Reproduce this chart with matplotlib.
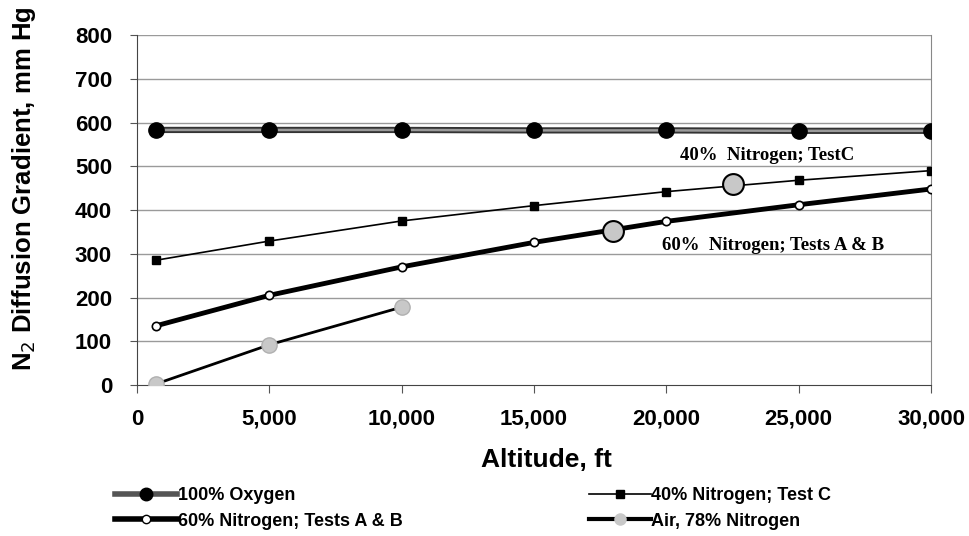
import matplotlib
matplotlib.use("Agg")
import matplotlib.pyplot as plt
from matplotlib.lines import Line2D

altitude = [700, 5000, 10000, 15000, 20000, 25000, 30000]
oxygen100 = [583, 583, 583, 582, 582, 581, 581]
nitrogen40 = [285, 329, 375, 410, 442, 468, 490]
nitrogen60 = [135, 205, 270, 326, 374, 412, 448]
air_alt = [700, 5000, 10000]
air78 = [2, 92, 178]
mark40 = (22500, 460)
mark60 = (18000, 352)

xticks = [0, 5000, 10000, 15000, 20000, 25000, 30000]
xticklabels = ["0", "5,000", "10,000", "15,000", "20,000", "25,000", "30,000"]
yticks = [0, 100, 200, 300, 400, 500, 600, 700, 800]

plt.rcParams['font.family'] = ['Liberation Sans', 'DejaVu Sans']

fig = plt.figure(figsize=(9.69, 5.36), dpi=100)
ax = fig.add_axes([0.1414, 0.2817, 0.8194, 0.653])

for y in yticks[1:]:
    ax.axhline(y, color='#9a9a9a', lw=1.0, zorder=0)

# 100% oxygen: double-edged grey band
ax.plot(altitude, oxygen100, color='#333333', lw=4.5, zorder=2, solid_capstyle='butt')
ax.plot(altitude, oxygen100, color='#9a9a9a', lw=1.8, zorder=2.1, solid_capstyle='butt')
ax.plot(altitude, oxygen100, ls='none', marker='o', ms=11, color='black', zorder=3)

ax.plot(altitude, nitrogen40, color='black', lw=1.2, marker='s', ms=6, zorder=3)
ax.plot(altitude, nitrogen60, color='black', lw=3.5, marker='o', ms=6,
        markerfacecolor='white', markeredgecolor='black', markeredgewidth=1.2, zorder=3)
ax.plot(air_alt, air78, color='black', lw=2, zorder=3)
ax.plot(air_alt, air78, ls='none', marker='o', ms=11, markerfacecolor='#c8c8c8',
        markeredgecolor='#b0b0b0', zorder=4)

ax.plot([mark40[0]], [mark40[1]], marker='o', ms=15, markerfacecolor='#c8c8c8',
        markeredgecolor='black', markeredgewidth=1.5, zorder=5)
ax.plot([mark60[0]], [mark60[1]], marker='o', ms=15, markerfacecolor='#c8c8c8',
        markeredgecolor='black', markeredgewidth=1.5, zorder=5)

ax.text(23800, 525, "40%  Nitrogen; TestC", family=['Liberation Serif', 'DejaVu Serif'],
        fontweight='bold', fontsize=13.5, ha='center', va='center')
ax.text(24050, 320, "60%  Nitrogen; Tests A & B", family=['Liberation Serif', 'DejaVu Serif'],
        fontweight='bold', fontsize=13.5, ha='center', va='center')

ax.set_xlim(0, 30000)
ax.set_ylim(0, 800)
ax.set_xticks(xticks)
ax.set_xticklabels(xticklabels)
ax.set_yticks(yticks)
for lab in ax.get_xticklabels() + ax.get_yticklabels():
    lab.set_fontweight('bold')
    lab.set_fontsize(16)
ax.tick_params(axis='x', direction='out', length=6, color='#555555', pad=11)
ax.tick_params(axis='y', direction='out', length=5, color='#555555', pad=13)

ax.spines['top'].set_visible(False)
ax.spines['right'].set_color('#888888')
ax.spines['right'].set_linestyle((0, (1, 1)))
ax.spines['left'].set_color('#444444')
ax.spines['bottom'].set_color('#444444')

ax.set_xlabel("Altitude, ft", fontsize=19, fontweight='bold')
ax.set_ylabel("N$_2$ Diffusion Gradient, mm Hg", fontsize=18.5, fontweight='bold')
ax.xaxis.set_label_coords(0.516, -0.213, transform=ax.transAxes)
ax.yaxis.set_label_coords(-0.142, 0.56, transform=ax.transAxes)
ax.xaxis.label.set_va('center')
ax.yaxis.label.set_va('center')

h_oxy = Line2D([], [], color='#555555', lw=4, marker='o', ms=9, markerfacecolor='black', markeredgecolor='black')
h_60 = Line2D([], [], color='black', lw=4, marker='o', ms=6, markerfacecolor='white', markeredgecolor='black')
h_40 = Line2D([], [], color='black', lw=1.2, marker='s', ms=6, markerfacecolor='black')
h_air = Line2D([], [], color='black', lw=3, marker='o', ms=8, markerfacecolor='#c8c8c8', markeredgecolor='#c8c8c8')

prop = {'family': ['Liberation Sans', 'DejaVu Sans'], 'weight': 'bold', 'size': 13}
leg1 = fig.legend([h_oxy, h_60], ["100% Oxygen", "60% Nitrogen; Tests A & B"],
                  loc='center left', bbox_to_anchor=(0.119, 0.0513), frameon=False,
                  handlelength=3.4, handletextpad=0.05, prop=prop, labelspacing=0.45,
                  borderpad=0, borderaxespad=0)
leg2 = fig.legend([h_40, h_air], ["40% Nitrogen; Test C", "Air, 78% Nitrogen"],
                  loc='center left', bbox_to_anchor=(0.608, 0.0513), frameon=False,
                  handlelength=3.4, handletextpad=0.05, prop=prop, labelspacing=0.45,
                  borderpad=0, borderaxespad=0)

fig.savefig("out.png", dpi=100)
